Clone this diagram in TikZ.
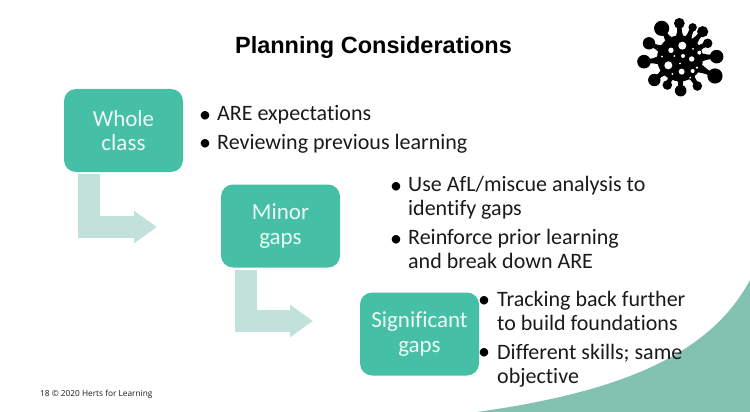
\documentclass[tikz,border=0pt]{standalone}
\usepackage{fontspec}
\setmainfont[Ligatures=CommonOff]{Carlito}
\newfontfamily\titlefont{Liberation Sans}
\newfontfamily\footfont{Open Sans}
\usetikzlibrary{arrows.meta,calc}
\definecolor{tealbox}{HTML}{45BFA6}
\definecolor{paletrail}{HTML}{C1E1DA}
\definecolor{swoosh}{HTML}{83C2B1}
\definecolor{inktext}{HTML}{1A1A1A}
\tikzset{
  stage/.style={fill=tealbox,rounded corners=12pt,minimum width=119pt,minimum height=83pt,inner sep=0pt,
    text=white!90!tealbox,align=center,font=\fontsize{23}{24.5}\selectfont},
  item/.style={anchor=base west,inner sep=0pt,align=left,text=inktext,font=\fontsize{22}{24}\selectfont},
  dot/.style={anchor=base,inner sep=0pt,text=black,font=\fontsize{24}{24}\selectfont},
  trailarrow/.style={draw=paletrail,line width=22pt,-{Triangle[length=23pt,width=31pt]}},
}
\begin{document}
\begin{tikzpicture}[x=1pt,y=-1pt]
\useasboundingbox (0,0) rectangle (750,412);
\fill[swoosh] (477,412) .. controls (620,392) and (710,355) .. (750,280) -- (750,412) -- cycle;
\node[anchor=base,inner sep=0pt,font=\titlefont\bfseries\fontsize{23.5}{26}\selectfont,text=black] (title) at (373.5,54) {Planning Considerations};

\node[stage] (whole) at (123.5,130.5) {Whole\\class};
\node[stage] (minor) at (280.5,226) {Minor\\gaps};
\node[stage] (signif) at (419.5,334) {Significant\\gaps};

\coordinate (tipA) at (157,227);
\coordinate (tipB) at (313,321);
\draw[trailarrow] ([xshift=-34.5pt,yshift=-2pt]whole.south) |- (tipA);
\draw[trailarrow] ([xshift=-35pt,yshift=-2pt]minor.south) |- (tipB);

\node[dot] (d1) at (205,122) {•};
\node[item] (t1) at (217,121) {ARE expectations};
\node[dot] (d2) at (205,150) {•};
\node[item] (t2) at (217,149) {Reviewing previous learning};

\node[dot] (d3) at (396,193) {•};
\node[item] (t3) at (408,215) {Use AfL/miscue analysis to\\identify gaps};
\node[dot] (d4) at (396,246) {•};
\node[item] (t4) at (408,268) {Reinforce prior learning\\and break down ARE};

\node[dot] (d5) at (484,307) {•};
\node[item] (t5) at (497,330) {Tracking back further\\to build foundations};
\node[dot] (d6) at (484,359) {•};
\node[item] (t6) at (497,383) {Different skills; same\\objective};

\node[anchor=base west,inner sep=0pt,font=\footfont\fontsize{8.3}{10}\selectfont,text=inktext] (foot) at (40,396) {18 © 2020 Herts for Learning};

% virus
\begin{scope}[shift={(620,0)},x=0.3333pt,y=-0.3333pt]
\fill[black] (180,175) circle[radius=23pt];
\foreach \x/\y/\r in {178/70/5.4,125/85/7.6,218/82/4.2,248/95/5.6,263/130/4.8,290/170/6.8,285/228/7.6,232/258/4.8,182/272/5.8,142/255/4.8,103/240/6.2,72/185/6.8,87/130/6.2}{
  \fill[black] ($(180,175)!10pt!90:(\x,\y)$) -- (\x,\y) -- ($(180,175)!10pt!-90:(\x,\y)$) -- cycle;
  \draw[black,line width=4.6pt] (180,175) -- (\x,\y);
  \fill[black] (\x,\y) circle[radius=\r pt];
}
\foreach \x/\y/\r in {187/137/4,153/151/2.7,219/147/1,238/158/2,163/168/1,189/168/2,215/177/2.7,126/170/1,180/190/1,145/196/4,231/203/1.3,185/215/3,218/213/2,157/222/1,211/233/1}{
  \fill[white] (\x,\y) circle[radius=\r pt];
}
\end{scope}
\end{tikzpicture}
\end{document}
